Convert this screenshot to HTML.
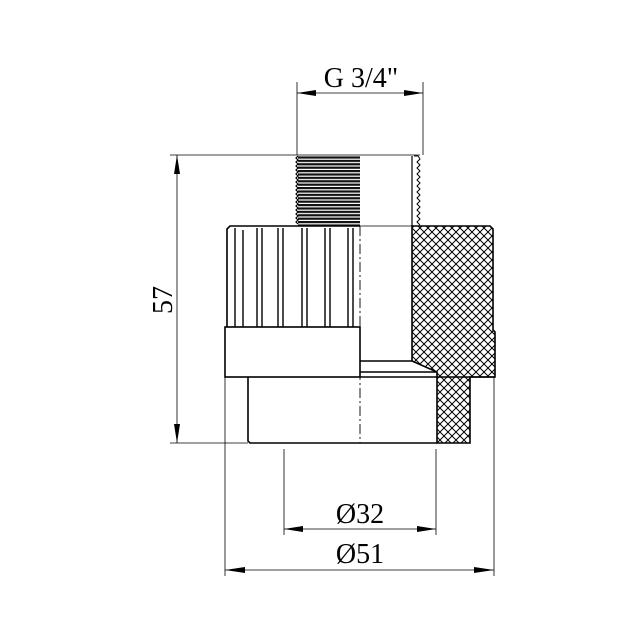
<!DOCTYPE html>
<html><head><meta charset="utf-8"><style>
html,body{margin:0;padding:0;background:#fff;}
svg{display:block;}
text{font-family:"Liberation Serif",serif;fill:#000;}
</style></head><body>
<svg width="630" height="630" viewBox="0 0 630 630" xmlns="http://www.w3.org/2000/svg">
<defs>
<pattern id="h" width="8" height="8" patternUnits="userSpaceOnUse">
<path d="M0,0 L8,8 M8,0 L0,8" stroke="#000" stroke-width="1"/>
</pattern>
<pattern id="t" width="62" height="3.4" patternUnits="userSpaceOnUse">
<rect width="62" height="3.4" fill="#fff"/>
<rect y="0" width="62" height="2.2" fill="#111"/>
</pattern>
</defs>
<g stroke="#000" fill="none">
<g stroke-width="0.8">
<line x1="297" y1="82" x2="297" y2="155"/>
<line x1="423" y1="82" x2="423" y2="155"/>
<line x1="297" y1="93" x2="423" y2="93"/>
<line x1="170" y1="155" x2="298" y2="155"/>
<line x1="170" y1="443" x2="248" y2="443"/>
<line x1="177" y1="155" x2="177" y2="443"/>
<line x1="284" y1="449" x2="284" y2="535"/>
<line x1="436" y1="449" x2="436" y2="535"/>
<line x1="284" y1="529" x2="436" y2="529"/>
<line x1="225" y1="377" x2="225" y2="576"/>
<line x1="494" y1="377" x2="494" y2="576"/>
<line x1="225" y1="570" x2="494" y2="570"/>
<line x1="360" y1="226" x2="412" y2="226"/>
<line x1="298" y1="155" x2="420" y2="155"/>
</g>
<g fill="#000" stroke="none">
<polygon points="297,93 316,90 316,96"/>
<polygon points="423,93 404,90 404,96"/>
<polygon points="177,155 174,174 180,174"/>
<polygon points="177,443 174,424 180,424"/>
<polygon points="284,529 303,526 303,532"/>
<polygon points="436,529 417,526 417,532"/>
<polygon points="225,570 245,567 245,573"/>
<polygon points="494,570 474,567 474,573"/>
</g>
<rect x="298" y="156" width="62" height="70" fill="url(#t)" stroke="none"/>
<path d="M298,156 l-2,2 l2,2 l-2,2 l2,2 l-2,2 l2,2 l-2,2 l2,2 l-2,2 l2,2 l-2,2 l2,2 l-2,2 l2,2 l-2,2 l2,2 l-2,2 l2,2 l-2,2 l2,2 l-2,2 l2,2 l-2,2 l2,2 l-2,2 l2,2 l-2,2 l2,2 l-2,2 l2,2 l-2,2 l2,2 l-2,2 l2,2" stroke-width="1.2"/>
<line x1="412" y1="156" x2="412" y2="226" stroke-width="1.2"/>
<path d="M414,156 l4,0 l2,3 l-3,3 l3,3 l-3,3 l3,3 l-3,3 l3,3 l-3,3 l3,3 l-3,3 l3,3 l-3,3 l3,3 l-3,3 l3,3 l-3,3 l3,3 l-3,3 l3,3 l-3,3 l3,3 l-3,3 l3,3" stroke-width="1"/>
<path d="M412,226 L490,226 L493,229 L493,330 L495,332 L495,377 L470,377 L470,443 L437,443 L437,372 L412,361 Z" fill="url(#h)" stroke-width="1.6"/>
<line x1="360" y1="361" x2="412" y2="361" stroke-width="1.4"/>
<line x1="360" y1="372" x2="437" y2="372" stroke-width="1.4"/>
<path d="M360,226 L230,226 L227,229 L227,327" stroke-width="1.6"/>
<rect x="225" y="327" width="135" height="50" stroke-width="1.6"/>
<line x1="360" y1="377" x2="495" y2="377" stroke-width="1.6"/>
<g stroke-width="1.4">
<line x1="235" y1="228" x2="235" y2="327"/>
<line x1="243" y1="230" x2="243" y2="327"/>
<line x1="257" y1="228" x2="257" y2="327"/>
<line x1="262" y1="228" x2="262" y2="327"/>
<line x1="278" y1="228" x2="278" y2="327"/>
<line x1="283" y1="228" x2="283" y2="327"/>
<line x1="302" y1="228" x2="302" y2="327"/>
<line x1="307" y1="228" x2="307" y2="327"/>
<line x1="325" y1="228" x2="325" y2="327"/>
<line x1="330" y1="228" x2="330" y2="327"/>
<line x1="348" y1="228" x2="348" y2="327"/>
<line x1="353" y1="228" x2="353" y2="327"/>
</g>
<path d="M248,377 L248,441 L250,443 L437,443" stroke-width="1.6"/>
<line x1="360" y1="226" x2="360" y2="443" stroke-width="0.9" stroke-dasharray="10,3,2,3"/>
</g>
<text x="361" y="87" font-size="28" text-anchor="middle">G 3/4"</text>
<text x="360" y="523" font-size="28" text-anchor="middle">Ø32</text>
<text x="360" y="563" font-size="28" text-anchor="middle">Ø51</text>
<text x="172" y="300" font-size="28" text-anchor="middle" transform="rotate(-90 172 300)">57</text>
</svg>
</body></html>
